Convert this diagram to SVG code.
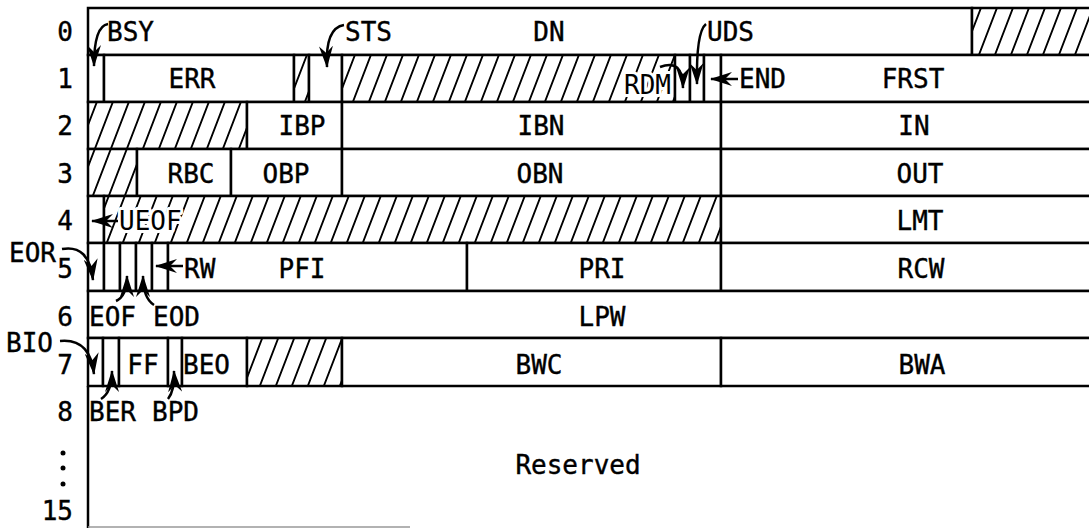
<svg xmlns="http://www.w3.org/2000/svg" width="1089" height="529" viewBox="0 0 1089 529">
<style>
.c{fill:#fff;stroke:#000;stroke-width:2.5}
.h{fill:url(#hatch);stroke:#000;stroke-width:2.5}
text{font-family:"DejaVu Sans Mono","Liberation Mono",monospace;font-size:26px;fill:#000;stroke:#000;stroke-width:0.4}
.m{text-anchor:middle}
.e{text-anchor:end}
.halo{stroke:#fff;stroke-width:6;paint-order:stroke;stroke-linejoin:round}
.a{fill:none;stroke:#000;stroke-width:2.5;marker-end:url(#ah)}
</style>
<defs>
<pattern id="hatch" patternUnits="userSpaceOnUse" width="16" height="16" patternTransform="skewX(-21)">
<rect width="16" height="16" fill="#fff"/>
<line x1="8" y1="-1" x2="8" y2="17" stroke="#000" stroke-width="2"/>
</pattern>
<marker id="ah" markerUnits="userSpaceOnUse" markerWidth="22" markerHeight="14" refX="21" refY="7" orient="auto">
<path d="M0,0 L22,7 L0,14 L7,7 z" fill="#000"/>
</marker>
</defs>
<rect width="1089" height="529" fill="#fff"/>

<g id="rowlabels">
<text class="e" x="73" y="41">0</text>
<text class="e" x="73" y="88">1</text>
<text class="e" x="73" y="135">2</text>
<text class="e" x="73" y="183">3</text>
<text class="e" x="73" y="230">4</text>
<text class="e" x="73" y="278">5</text>
<text class="e" x="73" y="326">6</text>
<text class="e" x="73" y="374">7</text>
<text class="e" x="73" y="421">8</text>
<circle cx="63" cy="453" r="2.5"/>
<circle cx="63" cy="468" r="2.5"/>
<circle cx="63" cy="484" r="2.5"/>
<text class="e" x="73" y="520">15</text>
</g>

<g id="row0">
<rect class="c" x="88" y="8" width="884" height="47"/>
<rect class="h" x="972" y="8" width="130" height="47"/>
<text x="107" y="41">BSY</text>
<text x="345" y="41">STS</text>
<text class="m" x="549" y="41">DN</text>
<text x="707" y="41">UDS</text>
</g>

<g id="row1">
<rect class="c" x="88" y="55" width="16" height="47"/>
<rect class="c" x="104" y="55" width="190" height="47"/>
<rect class="h" x="294" y="55" width="15" height="47"/>
<rect class="c" x="309" y="55" width="33" height="47"/>
<rect class="h" x="342" y="55" width="333" height="47"/>
<rect class="c" x="675" y="55" width="15" height="47"/>
<rect class="c" x="690" y="55" width="14" height="47"/>
<rect class="c" x="704" y="55" width="17" height="47"/>
<rect class="c" x="721" y="55" width="381" height="47"/>
<text class="m" x="192" y="88">ERR</text>
<text class="halo" x="624" y="94">RDM</text>
<text x="739" y="88">END</text>
<text class="m" x="913" y="88">FRST</text>
</g>

<g id="row2">
<rect class="h" x="88" y="102" width="159" height="47"/>
<rect class="c" x="247" y="102" width="95" height="47"/>
<rect class="c" x="342" y="102" width="379" height="47"/>
<rect class="c" x="721" y="102" width="381" height="47"/>
<text class="m" x="302" y="135">IBP</text>
<text class="m" x="541" y="135">IBN</text>
<text class="m" x="914" y="135">IN</text>
</g>

<g id="row3">
<rect class="h" x="88" y="149" width="49" height="47"/>
<rect class="c" x="137" y="149" width="94" height="47"/>
<rect class="c" x="231" y="149" width="111" height="47"/>
<rect class="c" x="342" y="149" width="379" height="47"/>
<rect class="c" x="721" y="149" width="381" height="47"/>
<text class="m" x="191" y="183">RBC</text>
<text class="m" x="286" y="183">OBP</text>
<text class="m" x="540" y="183">OBN</text>
<text class="m" x="920" y="183">OUT</text>
</g>

<g id="row4">
<rect class="c" x="88" y="196" width="16" height="47"/>
<rect class="h" x="104" y="196" width="617" height="47"/>
<rect class="c" x="721" y="196" width="381" height="47"/>
<text class="halo" x="119" y="230">UEOF</text>
<text class="m" x="920" y="230">LMT</text>
</g>

<g id="row5">
<rect class="c" x="88" y="243" width="16" height="48"/>
<rect class="c" x="104" y="243" width="16" height="48"/>
<rect class="c" x="120" y="243" width="16" height="48"/>
<rect class="c" x="136" y="243" width="16" height="48"/>
<rect class="c" x="152" y="243" width="16" height="48"/>
<rect class="c" x="168" y="243" width="299" height="48"/>
<rect class="c" x="467" y="243" width="254" height="48"/>
<rect class="c" x="721" y="243" width="381" height="48"/>
<text x="184" y="278">RW</text>
<text class="m" x="302" y="278">PFI</text>
<text class="m" x="602" y="278">PRI</text>
<text class="m" x="921" y="278">RCW</text>
<text x="9" y="262">EOR</text>
</g>

<g id="row6">
<rect class="c" x="88" y="291" width="1014" height="47"/>
<text x="89" y="326">EOF</text>
<text x="153" y="326">EOD</text>
<text class="m" x="602" y="326">LPW</text>
</g>

<g id="row7">
<rect class="c" x="88" y="338" width="15" height="48"/>
<rect class="c" x="103" y="338" width="16" height="48"/>
<rect class="c" x="119" y="338" width="49" height="48"/>
<rect class="c" x="168" y="338" width="14" height="48"/>
<rect class="c" x="182" y="338" width="65" height="48"/>
<rect class="h" x="247" y="338" width="95" height="48"/>
<rect class="c" x="342" y="338" width="379" height="48"/>
<rect class="c" x="721" y="338" width="381" height="48"/>
<text class="m" x="143" y="374">FF</text>
<text x="183" y="374">BEO</text>
<text class="m" x="539" y="374">BWC</text>
<text class="m" x="922" y="374">BWA</text>
<text x="6" y="352">BIO</text>
<text x="89" y="421">BER</text>
<text x="152" y="421">BPD</text>
</g>

<g id="reserved">
<line x1="88" y1="386" x2="88" y2="528" stroke="#000" stroke-width="2.5"/>
<line x1="88" y1="527" x2="410" y2="527" stroke="#999" stroke-width="1.5"/>
<text class="m" x="578" y="474">Reserved</text>
</g>

<g id="connectors">
<path class="a" d="M108 24 Q94 26 94 66"/>
<path class="a" d="M344 25 Q325 28 327 67"/>
<path class="a" d="M706 24 Q696 32 697 84"/>
<path class="a" d="M660 67 Q683 58 683 88"/>
<path class="a" d="M738 79 L711 79"/>
<path class="a" d="M118 221 L92 221"/>
<path class="a" d="M62 249 Q89 244 93 280"/>
<path class="a" d="M183 266 L156 266"/>
<path class="a" d="M116 301 Q127 296 127 276"/>
<path class="a" d="M154 305 Q143 298 143 276"/>
<path class="a" d="M60 341 Q90 338 94 374"/>
<path class="a" d="M101 399 Q112 392 112 371"/>
<path class="a" d="M168 399 Q175 390 174 371"/>
</g>
</svg>
